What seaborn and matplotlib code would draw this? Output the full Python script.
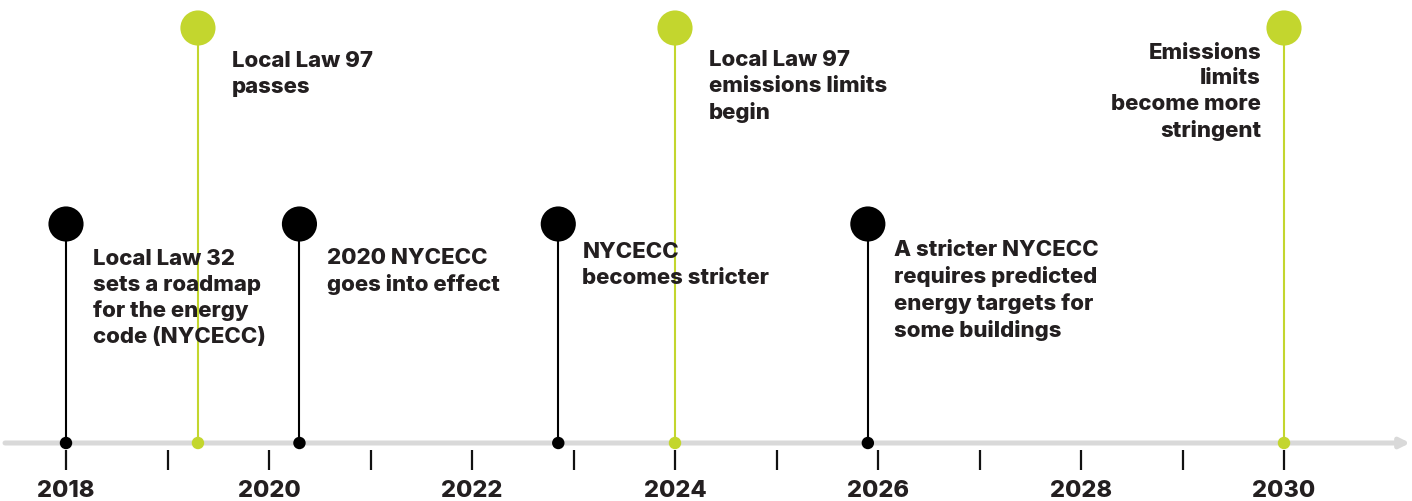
"""Timeline of NYC building energy rules (LL32, LL97, NYCECC)."""

import matplotlib
matplotlib.use("Agg")
import matplotlib.pyplot as plt
import pandas as pd
import seaborn as sns

# --- data -------------------------------------------------------------
event_years = [2018.0, 2019.3, 2020.3, 2022.85, 2024.0, 2025.9, 2030.0]
event_kinds = ["code", "ll97", "code", "code", "ll97", "code", "ll97"]
event_labels = [
    "Local Law 32\nsets a roadmap\nfor the energy\ncode (NYCECC)",
    "Local Law 97\npasses",
    "2020 NYCECC\ngoes into effect",
    "NYCECC\nbecomes stricter",
    "Local Law 97\nemissions limits\nbegin",
    "A stricter NYCECC\nrequires predicted\nenergy targets for\nsome buildings",
    "Emissions\nlimits\nbecome more\nstringent",
]
tick_years = list(range(2018, 2031))
label_years = [2018, 2020, 2022, 2024, 2026, 2028, 2030]

# --- style / layout ---------------------------------------------------
COLORS = {"code": "#000000", "ll97": "#c3d62e"}
HEAD_Y = {"code": 224, "ll97": 28}   # pixel rows (y axis runs top -> bottom)
AXIS_Y = 443
TEXT = "#231f20"
FONT = ["Inter", "DejaVu Sans"]
# (dx, last-line baseline below head, alignment) in pixels
TEXT_POS = [(27, 119, "left"), (34, 65, "left"), (28, 67, "left"),
            (24, 60, "left"), (34, 91, "left"), (26, 113, "left"),
            (-23, 109, "right")]

sns.set_theme(style="white")
plt.rcParams["font.family"] = FONT

df = pd.DataFrame({"year": event_years, "kind": event_kinds, "label": event_labels})
df["head"] = df["kind"].map(HEAD_Y)
df["base"] = AXIS_Y

fig = plt.figure(figsize=(14.12, 5.01), dpi=100)
ax = fig.add_axes([0, 0, 1, 1])
px_per_year = (1284 - 66) / 12
ax.set_xlim(2018 - 66 / px_per_year, 2030 + (1412 - 1284) / px_per_year)
ax.set_ylim(501, 0)
ax.axis("off")

# base line with arrow
x0 = ax.get_xlim()[0] + 5 / px_per_year
x1 = ax.get_xlim()[1] - 2 / px_per_year
ax.annotate("", xy=(x1, AXIS_Y), xytext=(x0, AXIS_Y),
            arrowprops=dict(arrowstyle="-|>", color="#d9d9d9", lw=3.6,
                            mutation_scale=14, shrinkA=0, shrinkB=0), zorder=1)

# year ticks and labels
ax.vlines(tick_years, 450, 470, color="#111111", lw=1.6, zorder=2)
for yr in label_years:
    ax.text(yr, 491, str(yr), ha="center", va="center", fontsize=17,
            fontweight="heavy", color=TEXT)

# stems
for kind, sub in df.groupby("kind"):
    ax.vlines(sub["year"], sub["head"], sub["base"], color=COLORS[kind],
              lw=1.5, zorder=3)

# heads and base dots
sns.scatterplot(data=df, x="year", y="head", hue="kind", palette=COLORS,
                s=640, linewidth=0, legend=False, ax=ax, zorder=4)
sns.scatterplot(data=df, x="year", y="base", hue="kind", palette=COLORS,
                s=80, linewidth=0, legend=False, ax=ax, zorder=4)
ax.set_xlabel("")
ax.set_ylabel("")

# labels: va="baseline" pins the last line's baseline
for (yr, head, lab), (dx, dy, ha) in zip(df[["year", "head", "label"]].values, TEXT_POS):
    ax.annotate(lab, xy=(yr, head), xytext=(dx, -dy), textcoords="offset pixels",
                ha=ha, va="baseline", fontsize=16, fontweight="heavy", color=TEXT,
                linespacing=1.35, multialignment=ha)

fig.savefig("out.png", dpi=100)
